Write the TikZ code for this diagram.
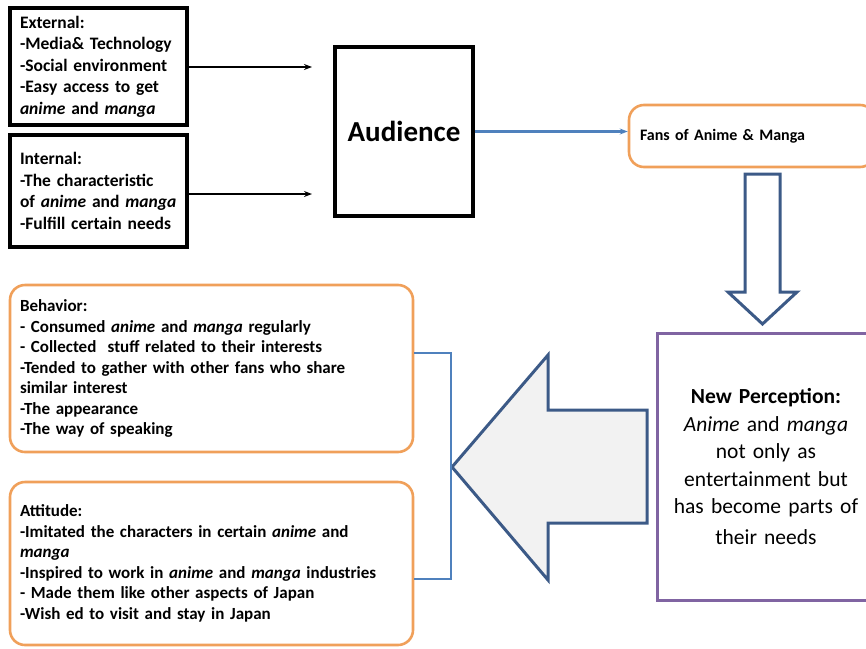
\documentclass[tikz,border=0pt]{standalone}
\usepackage{fontspec}
\setmainfont{Carlito}
\usetikzlibrary{arrows.meta}
\definecolor{orangeline}{RGB}{240,160,90}
\definecolor{blueline}{RGB}{79,129,189}
\definecolor{arrowline}{RGB}{60,90,135}
\definecolor{purpleline}{RGB}{128,100,162}
\definecolor{arrowfill}{RGB}{242,242,242}

\begin{document}
\begin{tikzpicture}[x=1pt,y=-1pt]
 \tikzset{blackbox/.style={draw, line width=3.2pt, align=left, inner sep=0pt, font=\bfseries\fontsize{17.5}{21.5}\selectfont},
  orangebox/.style={draw=orangeline, line width=2.6pt, rounded corners=15pt, align=left, inner sep=0pt, font=\bfseries\fontsize{17}{20.5}\selectfont},
  directed/.style={-{Stealth[length=8pt,width=6pt]}}}
  \useasboundingbox (0,0) rectangle (866,648);
  \node[blackbox, minimum width=177, minimum height=117, text width=157] (EXT) at (98.5,66.5) {External:\\-Media\& Technology\\-Social environment\\-Easy access to get\\\textit{anime} and \textit{manga}};
  \node[blackbox, minimum width=177, minimum height=112, text width=157] (INT) at (98.5,191) {Internal:\\-The characteristic\\of \textit{anime} and \textit{manga}\\-Fulfill certain needs};
  \node[draw, line width=3.2pt, minimum width=138, minimum height=169, font=\bfseries\fontsize{29}{32}\selectfont] (AUD) at (404,131.5) {Audience};
  \node[orangebox, minimum width=246, minimum height=62, text width=224, font=\bfseries\fontsize{16}{19}\selectfont] (FANS) at (752,136) {Fans of Anime \& Manga};
  \node[draw=purpleline, line width=3pt, minimum width=218, minimum height=267, text width=214, align=center, inner sep=0pt, font=\fontsize{21.5}{27.5}\selectfont] (NP) at (766,466.5) {\textbf{New Perception:}\\\textit{Anime} and \textit{manga}\\not only as\\entertainment but\\has become parts of\\[3pt]their needs};
  \node[orangebox, minimum width=403, minimum height=167, text width=383] (BEH) at (211.5,368.5) {Behavior:\\- Consumed \textit{anime} and \textit{manga} regularly\\- Collected~ stuff related to their interests\\-Tended to gather with other fans who share\\similar interest\\-The appearance\\-The way of speaking};
  \node[orangebox, minimum width=403, minimum height=163, text width=383] (ATT) at (211.5,563.5) {Attitude:\\-Imitated the characters in certain \textit{anime} and\\\textit{manga}\\-Inspired to work in \textit{anime} and \textit{manga} industries\\- Made them like other aspects of Japan\\-Wish ed to visit and stay in Japan};
  \coordinate (IN1) at (312,67);
  \coordinate (IN2) at (312,194);
  \coordinate (BK1) at (451,353);
  \coordinate (BK2) at (451,579);
  \draw[line width=1.4pt, directed] (EXT.east |- IN1) -- (IN1);
  \draw[line width=1.4pt, directed] (INT.east |- IN2) -- (IN2);
  \draw[line width=2.4pt, blueline, directed] (AUD.east) -- (AUD.east -| FANS.west);
  % block arrows
  \draw[line width=3pt, arrowline, fill=white, line join=miter] (745,174) -- (780,174) -- (780,292) -- (797,292) -- (762.5,324) -- (728,292) -- (745,292) -- cycle;
  \draw[line width=3pt, arrowline, fill=arrowfill, line join=miter] (452,467) -- (548,355) -- (548,410) -- (647,410) -- (647,523) -- (548,523) -- (548,580) -- cycle;
  \draw[line width=1.6pt, blueline] (BEH.east |- BK1) -- (BK1) -- (BK2) -- (ATT.east |- BK2);
\end{tikzpicture}
\end{document}
